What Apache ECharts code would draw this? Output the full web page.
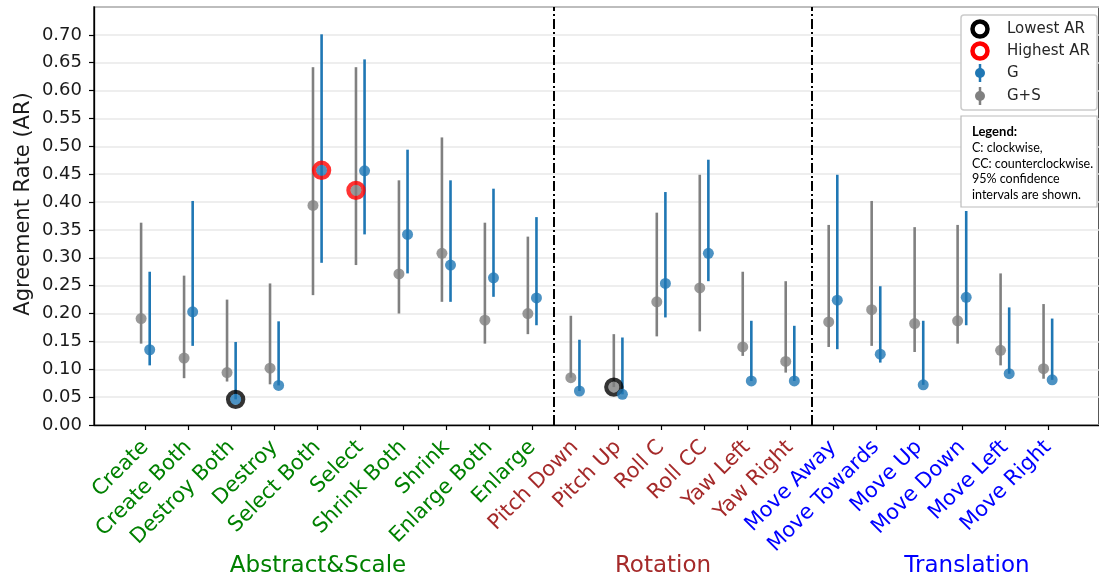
<!DOCTYPE html>
<html>
<head>
<meta charset="utf-8">
<script src="https://cdn.jsdelivr.net/npm/echarts@6/dist/echarts.min.js"></script>
<style>
  html, body { margin: 0; padding: 0; background: #fff; }
  #main { width: 1099px; height: 584px; }
</style>
</head>
<body>
<div id="main"></div>
<script>
// ---------------- DATA ----------------
const categories = [
  'Create', 'Create Both', 'Destroy Both', 'Destroy', 'Select Both', 'Select',
  'Shrink Both', 'Shrink', 'Enlarge Both', 'Enlarge',
  'Pitch Down', 'Pitch Up', 'Roll C', 'Roll CC', 'Yaw Left', 'Yaw Right',
  'Move Away', 'Move Towards', 'Move Up', 'Move Down', 'Move Left', 'Move Right'
];
const groupNames = ['Abstract&Scale', 'Rotation', 'Translation'];
const groupSizes = [10, 6, 6];

// G+S (gray)
const gsMean = [0.191, 0.120, 0.094, 0.102, 0.394, 0.421, 0.271, 0.308, 0.188, 0.200,
                0.085, 0.068, 0.221, 0.246, 0.140, 0.114,
                0.185, 0.207, 0.182, 0.187, 0.134, 0.101];
const gsLow  = [0.146, 0.084, 0.078, 0.073, 0.233, 0.287, 0.200, 0.221, 0.146, 0.163,
                0.085, 0.068, 0.159, 0.168, 0.124, 0.094,
                0.140, 0.142, 0.131, 0.146, 0.107, 0.083];
const gsHigh = [0.363, 0.268, 0.225, 0.254, 0.642, 0.642, 0.439, 0.516, 0.363, 0.338,
                0.196, 0.163, 0.381, 0.449, 0.275, 0.258,
                0.359, 0.402, 0.355, 0.359, 0.272, 0.217];
// G (blue)
const gMean  = [0.135, 0.203, 0.046, 0.071, 0.457, 0.456, 0.342, 0.287, 0.264, 0.228,
                0.061, 0.055, 0.254, 0.308, 0.079, 0.079,
                0.224, 0.127, 0.072, 0.229, 0.092, 0.081];
const gLow   = [0.107, 0.142, 0.046, 0.071, 0.291, 0.342, 0.272, 0.221, 0.230, 0.179,
                0.061, 0.055, 0.193, 0.258, 0.079, 0.079,
                0.136, 0.112, 0.072, 0.179, 0.092, 0.081];
const gHigh  = [0.275, 0.402, 0.149, 0.186, 0.701, 0.656, 0.494, 0.439, 0.424, 0.373,
                0.153, 0.157, 0.418, 0.476, 0.187, 0.178,
                0.449, 0.249, 0.187, 0.384, 0.211, 0.191];

const yTickValues = [0, 0.05, 0.10, 0.15, 0.20, 0.25, 0.30, 0.35, 0.40, 0.45, 0.50, 0.55, 0.60, 0.65, 0.70];
const legendNames = ['Lowest AR', 'Highest AR', 'G', 'G+S'];
const noteTitle = 'Legend:';
const noteLines = ['C: clockwise,', 'CC: counterclockwise.', '95% confidence', 'intervals are shown.'];
const yTitle = 'Agreement Rate (AR)';

// ---------------- STYLE ----------------
const BLUE = '#1f77b4', GRAY = '#808080';
const groupColors = ['#008000', '#a52a2a', '#0000ff'];
const groupKeys = ['a', 'r', 't'];
const OFF = 0.1;
const FONT = 'DejaVu Sans';

// group of each category
const catGroup = [];
groupSizes.forEach((n, g) => { for (let k = 0; k < n; k++) catGroup.push(g); });
// separators between groups
const separators = [];
let acc = 0;
for (let g = 0; g < groupSizes.length - 1; g++) { acc += groupSizes[g]; separators.push(acc - 0.5); }

function argMin(a) { let k = 0; a.forEach((v, i) => { if (v < a[k]) k = i; }); return k; }
function argMax(a) { let k = 0; a.forEach((v, i) => { if (v > a[k]) k = i; }); return k; }

const lowG = argMin(gMean), lowGS = argMin(gsMean);
const highG = argMax(gMean), highGS = argMax(gsMean);

const gsErr = categories.map((c, i) => [i - OFF, gsLow[i], gsHigh[i]]);
const gErr  = categories.map((c, i) => [i + OFF, gLow[i], gHigh[i]]);
const gsPts = categories.map((c, i) => [i - OFF, gsMean[i]]);
const gPts  = categories.map((c, i) => [i + OFF, gMean[i]]);

function errRender(color) {
  return function (params, api) {
    const x = api.value(0);
    const p1 = api.coord([x, api.value(1)]);
    const p2 = api.coord([x, api.value(2)]);
    return {
      type: 'line',
      shape: { x1: p1[0], y1: p1[1], x2: p2[0], y2: p2[1] },
      style: { stroke: color, lineWidth: 2.6 }
    };
  };
}

const rich = {};
groupKeys.forEach((k, g) => { rich[k] = { color: groupColors[g], fontSize: 21, fontFamily: FONT }; });

const chart = echarts.init(document.getElementById('main'));

const legendX = 980, legendTextX = 1007;
const legendYs = [29, 51, 73, 96];
const legendGraphics = [
  { type: 'rect', shape: { x: 961, y: 15, width: 136, height: 95, r: 3 },
    style: { fill: '#fff', stroke: '#cccccc', lineWidth: 1.5 }, z: 100 },
  { type: 'circle', shape: { cx: legendX, cy: legendYs[0], r: 7.5 },
    style: { fill: 'none', stroke: '#000', lineWidth: 4.5 }, z: 101 },
  { type: 'circle', shape: { cx: legendX, cy: legendYs[1], r: 7.5 },
    style: { fill: 'none', stroke: '#ff0000', lineWidth: 4.5 }, z: 101 },
  { type: 'line', shape: { x1: legendX, y1: legendYs[2] - 9, x2: legendX, y2: legendYs[2] + 9 },
    style: { stroke: BLUE, lineWidth: 2.5 }, z: 101 },
  { type: 'circle', shape: { cx: legendX, cy: legendYs[2], r: 5 }, style: { fill: BLUE }, z: 101 },
  { type: 'line', shape: { x1: legendX, y1: legendYs[3] - 9, x2: legendX, y2: legendYs[3] + 9 },
    style: { stroke: GRAY, lineWidth: 2.5 }, z: 101 },
  { type: 'circle', shape: { cx: legendX, cy: legendYs[3], r: 5 }, style: { fill: GRAY }, z: 101 }
];
legendNames.forEach((n, k) => {
  legendGraphics.push({ type: 'text', x: legendTextX, y: legendYs[k], z: 101,
    style: { text: n, fontSize: 15, fontFamily: FONT, fill: '#262626', textVerticalAlign: 'middle' } });
});
legendGraphics.push({ type: 'rect', shape: { x: 961, y: 116, width: 136, height: 91 },
  style: { fill: '#fff', stroke: '#bbbbbb', lineWidth: 1.2 }, z: 100 });
legendGraphics.push({ type: 'text', x: 972, y: 132, z: 101,
  style: { text: noteTitle, fontSize: 13, fontWeight: 'bold', fontFamily: 'Lato', fill: '#000', textVerticalAlign: 'middle' } });
noteLines.forEach((t, k) => {
  legendGraphics.push({ type: 'text', x: 972, y: 148 + k * 15.5, z: 101,
    style: { text: t, fontSize: 12.5, fontFamily: 'Lato', fill: '#000', textVerticalAlign: 'middle' } });
});

const groupTitleX = [318, 663, 967];
const titleGraphics = groupNames.map((n, g) => ({
  type: 'text', x: groupTitleX[g], y: 566,
  style: { text: n, fontSize: 23, fontFamily: FONT, fill: groupColors[g], textAlign: 'center', textVerticalAlign: 'middle' }
}));
titleGraphics.push({
  type: 'text', x: 24, y: 204, rotation: Math.PI / 2,
  style: { text: yTitle, fontSize: 21, fontFamily: FONT, fill: '#1a1a1a', textAlign: 'center', textVerticalAlign: 'middle' }
});

const catIdx = categories.map((c, i) => i);

chart.setOption({
  animation: false,
  backgroundColor: '#fff',
  grid: { left: 94, right: -6, top: 7, bottom: 159, show: true, borderColor: '#000', borderWidth: 1.3, backgroundColor: 'transparent' },
  xAxis: {
    type: 'value', min: -1.196, max: 22.19,
    axisLine: { show: true, onZero: false, lineStyle: { color: '#000', width: 1.3 } },
    axisTick: { show: true, customValues: catIdx, length: 5, lineStyle: { color: '#000', width: 1.2 } },
    axisLabel: {
      customValues: catIdx, rotate: 45, margin: 19, rich: rich,
      formatter: function (v) { const i = Math.round(v); return '{' + groupKeys[catGroup[i]] + '|' + categories[i] + '}'; }
    },
    splitLine: { show: false }
  },
  yAxis: {
    type: 'value', min: 0, max: 0.75, interval: 0.05,
    axisLine: { show: true, onZero: false, lineStyle: { color: '#000', width: 1.3 } },
    axisTick: { show: true, length: 5, lineStyle: { color: '#000', width: 1.2 } },
    axisLabel: {
      showMaxLabel: false, fontSize: 18, fontFamily: FONT, color: '#1a1a1a', margin: 12,
      formatter: function (v) { return yTickValues.some(t => Math.abs(t - v) < 1e-6) ? v.toFixed(2) : ''; }
    },
    splitLine: { show: true, lineStyle: { color: '#e8e8e8', width: 1.5 } }
  },
  graphic: legendGraphics.concat(titleGraphics),
  series: [
    {
      name: 'Lowest AR', type: 'scatter', symbol: 'circle', symbolSize: 15,
      itemStyle: { color: 'rgba(0,0,0,0)', borderColor: '#000', borderWidth: 4.4 },
      data: [[lowG + OFF, gMean[lowG]], [lowGS - OFF, gsMean[lowGS]]],
      silent: true,
      markLine: {
        silent: true, symbol: 'none', label: { show: false },
        lineStyle: { color: '#000', width: 2, type: [10, 3, 2, 3] },
        data: separators.map(s => ({ xAxis: s }))
      }
    },
    {
      name: 'Highest AR', type: 'scatter', symbol: 'circle', symbolSize: 15,
      itemStyle: { color: 'rgba(0,0,0,0)', borderColor: '#ff0000', borderWidth: 4.4 },
      data: [[highG + OFF, gMean[highG]], [highGS - OFF, gsMean[highGS]]],
      silent: true
    },
    { name: 'G+S err', type: 'custom', renderItem: errRender(GRAY), encode: { x: 0, y: [1, 2] }, data: gsErr, silent: true },
    { name: 'G+S', type: 'scatter', symbolSize: 11, itemStyle: { color: GRAY }, data: gsPts, silent: true },
    { name: 'G err', type: 'custom', renderItem: errRender(BLUE), encode: { x: 0, y: [1, 2] }, data: gErr, silent: true },
    { name: 'G', type: 'scatter', symbolSize: 11, itemStyle: { color: BLUE }, data: gPts, silent: true }
  ]
});
</script>
</body>
</html>
